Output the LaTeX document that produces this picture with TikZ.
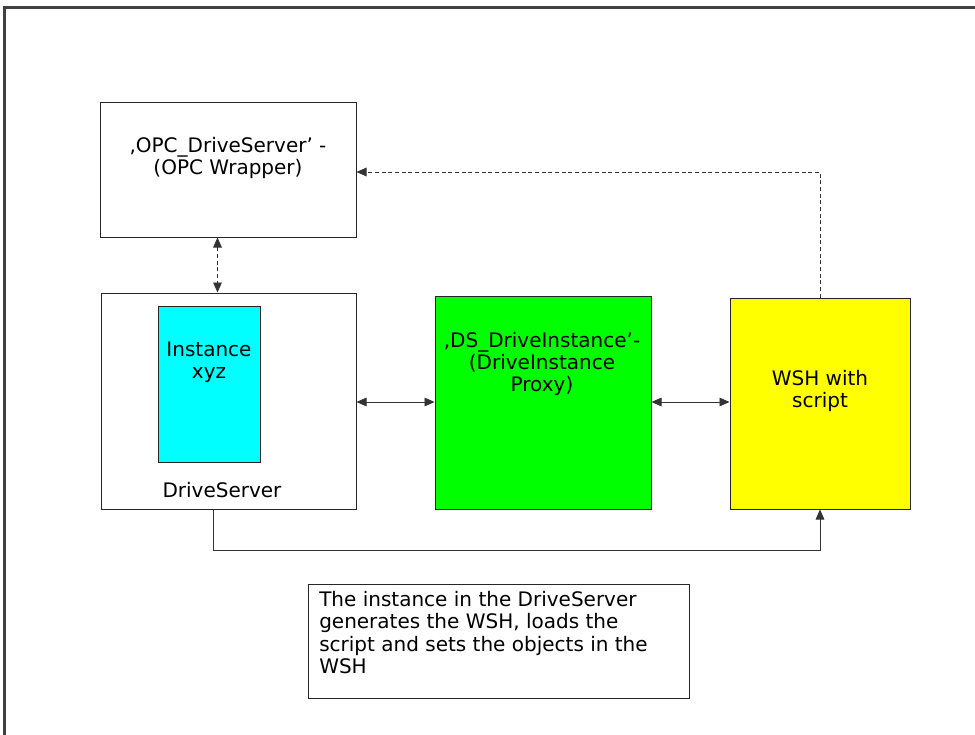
\documentclass[tikz,border=0pt]{standalone}
\usepackage{fontspec}
\setmainfont{DejaVu Sans}
\usetikzlibrary{arrows.meta}
\definecolor{boxcyan}{RGB}{0,255,255}
\definecolor{boxgreen}{RGB}{0,255,0}
\definecolor{boxyellow}{RGB}{255,255,0}
\begin{document}
\begin{tikzpicture}[x=0.75pt,y=-0.75pt,
  font=\fontsize{15}{16.8}\selectfont,
  box/.style={draw=black!85,line width=0.75pt,inner sep=0pt},
  txt/.style={align=center,inner sep=0pt},
  tip/.style={-{Triangle[length=7.5pt,width=6.5pt]}},
  tips/.style={{Triangle[length=7.5pt,width=6.5pt]}-{Triangle[length=7.5pt,width=6.5pt]}},
  link/.style={line width=0.6pt,black!80},
  dlink/.style={link,dash pattern=on 3pt off 2pt}]
\useasboundingbox (0,0) rectangle (975,735);
% outer frame (runs past the right and bottom edges)
\draw[line width=1.6pt,black!75] (985,7.5) -- (4.5,7.5) -- (4.5,745);

% boxes
\node[box,minimum width=192pt,minimum height=100.5pt] (opc) at (228,170) {};
\node[box,minimum width=191.25pt,minimum height=162pt] (ds) at (228.5,401) {};
\node[box,fill=boxcyan,minimum width=76.5pt,minimum height=117pt] (inst) at (209,384) {};
\node[box,fill=boxgreen,minimum width=162pt,minimum height=159.75pt] (proxy) at (543,402.5) {};
\node[box,fill=boxyellow,minimum width=135pt,minimum height=158.25pt] (wsh) at (820,403.5) {};
\node[box,minimum width=285.75pt,minimum height=85.5pt] (note) at (498.5,641) {};

% texts
\node[txt] (opct) at (228,158) {,OPC\_DriveServer' -\\(OPC Wrapper)};
\node[txt] (instt) at (209,362) {Instance\\xyz};
\node[txt] (dst) at (222,490) {DriveServer};
\node[txt] (proxyt) at (542,364) {,DS\_DriveInstance'-\\(DriveInstance\\Proxy)};
\node[txt] (wsht) at (820,391) {WSH with\\script};
\node[txt,align=left,anchor=north west] (notet) at (319,591)
  {The instance in the DriveServer\\generates the WSH, loads the\\script and sets the objects in the\\WSH};

% connectors
\coordinate (dstop) at ([xshift=-8.25pt]ds.north);
\coordinate (dsbot) at ([xshift=-11.6pt]ds.south);
\coordinate (bend) at (0,550);
\draw[dlink,tips] (dstop |- opc.south) -- (dstop);
\draw[link,tips] (ds.east |- 0,402) -- (proxy.west |- 0,402);
\draw[link,tips] (proxy.east |- 0,402) -- (wsh.west |- 0,402);
\draw[dlink,tip] (wsh.north) |- ([yshift=-1.5pt]opc.east);
\draw[link,tip] (dsbot) -- (dsbot |- bend) -| (wsh.south);
\end{tikzpicture}
\end{document}
